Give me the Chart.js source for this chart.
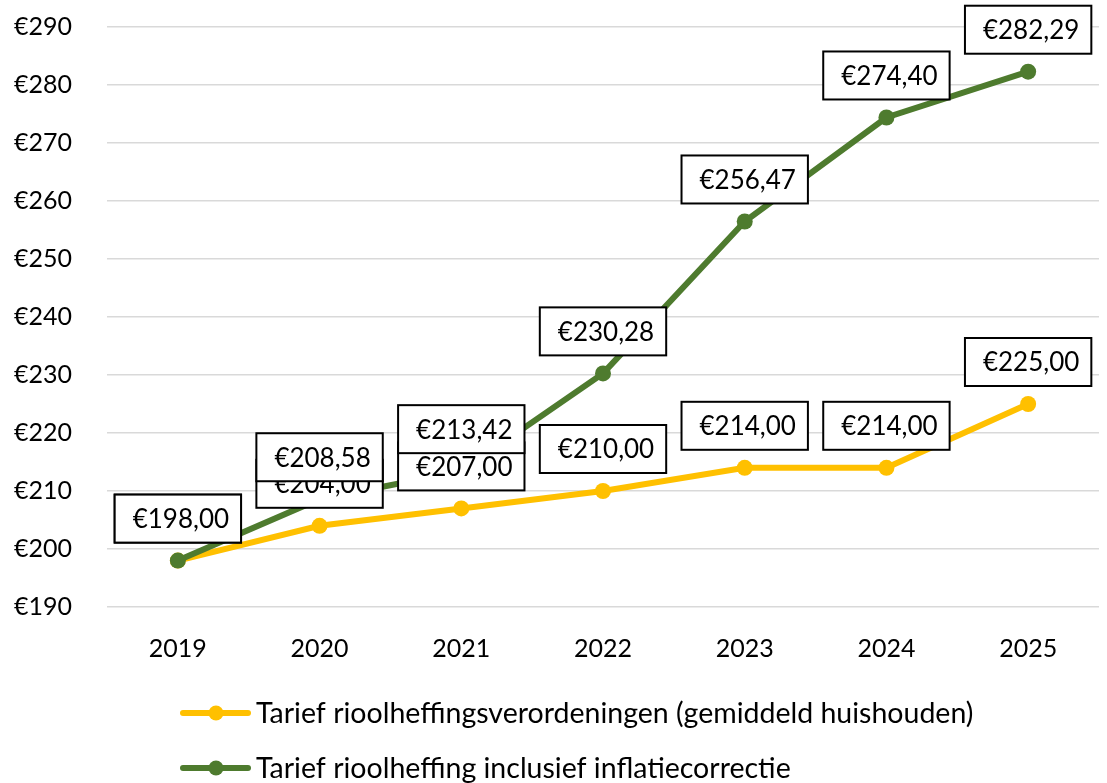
<!DOCTYPE html>
<html>
<head>
<meta charset="utf-8">
<script src="https://cdn.jsdelivr.net/npm/chart.js@4"></script>
<style>
  html, body { margin: 0; padding: 0; background: #fff; }
  #wrap { width: 1107px; height: 783px; position: relative; }
</style>
</head>
<body>
<div id="wrap"><canvas id="rioolchart"></canvas></div>
<script>
const years = ['2019', '2020', '2021', '2022', '2023', '2024', '2025'];
const tariefVerordening = [198.00, 204.00, 207.00, 210.00, 214.00, 214.00, 225.00];
const tariefInflatie = [198.00, 208.58, 213.42, 230.28, 256.47, 274.40, 282.29];
const seriesNames = [
	'Tarief rioolheffingsverordeningen (gemiddeld huishouden)',
	'Tarief rioolheffing inclusief inflatiecorrectie'
];
const yMin = 190;
const yMax = 290;
const yStep = 10;

const YELLOW = '#FFC000';
const GREEN = '#4E7B2E';
const FONT = 'Lato, "Open Sans", sans-serif';

function euro(v) {
	return '€' + v.toFixed(2).replace('.', ',');
}

// boxed value labels above every point, green drawn last so it sits on top
const valueBoxes = {
	id: 'valueBoxes',
	afterDatasetsDraw(chart) {
		const ctx = chart.ctx;
		ctx.save();
		ctx.font = '26px ' + FONT;
		ctx.textAlign = 'center';
		ctx.textBaseline = 'middle';
		[0, 1].forEach(i => {
			const meta = chart.getDatasetMeta(i);
			const values = chart.data.datasets[i].data;
			meta.data.forEach((pt, j) => {
				const txt = euro(values[j]);
				const w = ctx.measureText(txt).width + 30;
				const h = 48;
				const left = pt.x - w / 2;
				const top = pt.y - 18 - h;
				ctx.fillStyle = '#fff';
				ctx.fillRect(left, top, w, h);
				ctx.lineWidth = 2;
				ctx.strokeStyle = '#000';
				ctx.strokeRect(left, top, w, h);
				ctx.fillStyle = '#000';
				ctx.fillText(txt, pt.x + 3, top + h / 2 + 1);
			});
		});
		ctx.restore();
	}
};

// legend stacked in two rows at the bottom
const stackedLegend = {
	id: 'stackedLegend',
	afterDraw(chart) {
		const ctx = chart.ctx;
		ctx.save();
		ctx.font = '28.5px ' + FONT;
		ctx.textBaseline = 'middle';
		ctx.textAlign = 'left';
		chart.data.datasets.forEach((ds, i) => {
			const y = 713 + i * 55;
			ctx.strokeStyle = ds.borderColor;
			ctx.lineWidth = 6;
			ctx.lineCap = 'round';
			ctx.beginPath();
			ctx.moveTo(183, y);
			ctx.lineTo(248, y);
			ctx.stroke();
			ctx.fillStyle = ds.borderColor;
			ctx.beginPath();
			ctx.arc(216, y, 7.5, 0, Math.PI * 2);
			ctx.fill();
			ctx.fillStyle = '#000';
			ctx.fillText(ds.label, 256, y + 1);
		});
		ctx.restore();
	}
};

const data = {
	labels: years,
	datasets: [{
		label: seriesNames[0],
		data: tariefVerordening,
		borderColor: YELLOW,
		backgroundColor: YELLOW,
		borderWidth: 6,
		pointRadius: 8,
		pointHoverRadius: 8,
		pointBorderWidth: 0,
		order: 2
	}, {
		label: seriesNames[1],
		data: tariefInflatie,
		borderColor: GREEN,
		backgroundColor: GREEN,
		borderWidth: 6,
		pointRadius: 8,
		pointHoverRadius: 8,
		pointBorderWidth: 0,
		order: 1
	}]
};

const config = {
	type: 'line',
	data,
	options: {
		responsive: true,
		maintainAspectRatio: false,
		animation: false,
		layout: { padding: { top: 27, left: 0, right: 0, bottom: 106 } },
		plugins: {
			legend: { display: false },
			tooltip: { enabled: false }
		},
		scales: {
			x: {
				offset: true,
				grid: { display: false, drawTicks: false },
				border: { display: false },
				ticks: { color: '#000', font: { family: FONT, size: 25 }, padding: 27 },
				afterFit(scale) { scale.height = 70; }
			},
			y: {
				min: yMin,
				max: yMax,
				grid: { color: '#D9D9D9', lineWidth: 1.5, drawTicks: false },
				border: { display: false },
				ticks: {
					stepSize: yStep,
					color: '#000',
					font: { family: FONT, size: 25 },
					padding: 35,
					callback: v => '€' + v
				},
				afterFit(scale) {
					scale.width = 107;
					// tick padding is meant horizontally, don't let it push the top down
					scale.paddingTop = 0;
					scale.paddingBottom = 0;
				}
			}
		}
	},
	plugins: [valueBoxes, stackedLegend]
};

const myChart = new Chart(document.getElementById('rioolchart'), config);
</script>
</body>
</html>
